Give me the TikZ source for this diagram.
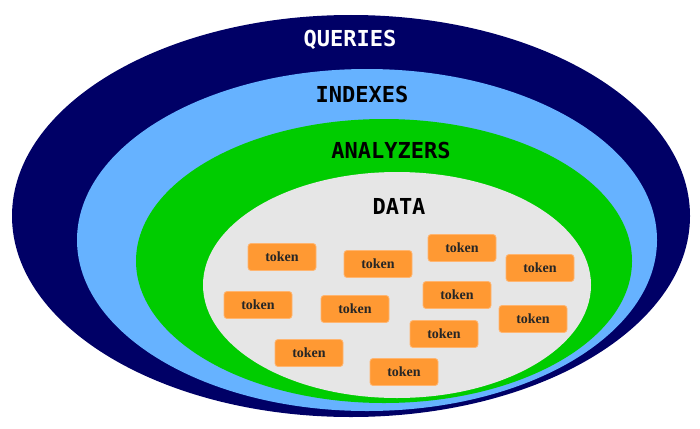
\documentclass[tikz,border=0pt]{standalone}
\usepackage{fontspec}
\setmainfont{Liberation Serif}
\newfontfamily\labelfont{DejaVu Sans Mono}
\definecolor{navyring}{HTML}{000066}
\definecolor{bluering}{HTML}{66B2FF}
\definecolor{greenring}{HTML}{00CC00}
\definecolor{grayring}{HTML}{E6E6E6}
\definecolor{tokenfill}{HTML}{FF9933}
\definecolor{tokenedge}{HTML}{FFB570}
\tikzset{
  ringlabel/.style={font=\labelfont\bfseries\fontsize{22}{24}\selectfont, inner sep=0pt},
  tokenbox/.style={fill=tokenfill, draw=tokenedge, line width=0.8pt, rounded corners=3pt,
    minimum width=68pt, minimum height=27pt, inner sep=0pt,
    font=\bfseries\fontsize{14}{16}\selectfont, text=black!85}
}
\begin{document}
\begin{tikzpicture}[x=1pt,y=-1pt]
\useasboundingbox (0,0) rectangle (700,428);
\fill[navyring] (351,216) ellipse [x radius=339, y radius=201];
\fill[bluering] (367,240) ellipse [x radius=290, y radius=171];
\fill[greenring] (384,261) ellipse [x radius=248, y radius=142];
\fill[grayring] (397,285) ellipse [x radius=194, y radius=113];
\node[ringlabel, text=white] (queries) at (350,40) {QUERIES};
\node[ringlabel, text=black] (indexes) at (362,94) {INDEXES};
\node[ringlabel, text=black] (analyzers) at (391,150) {ANALYZERS};
\node[ringlabel, text=black] (data) at (399,206) {DATA};
\node[tokenbox] (t1) at (282,257) {token};
\node[tokenbox] (t2) at (378,264) {token};
\node[tokenbox] (t3) at (462,248) {token};
\node[tokenbox] (t4) at (540,268) {token};
\node[tokenbox] (t5) at (258,305) {token};
\node[tokenbox] (t6) at (355,309) {token};
\node[tokenbox] (t7) at (457,295) {token};
\node[tokenbox] (t8) at (533,319) {token};
\node[tokenbox] (t9) at (444,334) {token};
\node[tokenbox] (t10) at (309,353) {token};
\node[tokenbox] (t11) at (404,372) {token};
\end{tikzpicture}
\end{document}
